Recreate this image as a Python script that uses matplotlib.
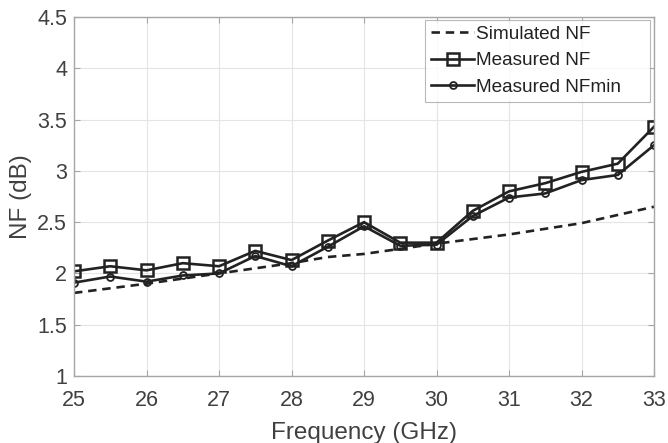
import matplotlib
matplotlib.use("Agg")
import matplotlib.pyplot as plt

freq = [25, 25.5, 26, 26.5, 27, 27.5, 28, 28.5, 29, 29.5, 30, 30.5, 31, 31.5, 32, 32.5, 33]
meas_nf = [2.02, 2.07, 2.03, 2.10, 2.07, 2.22, 2.13, 2.32, 2.50, 2.30, 2.30, 2.61, 2.80, 2.88, 2.99, 3.07, 3.43]
meas_nfmin = [1.91, 1.97, 1.92, 1.98, 2.00, 2.17, 2.07, 2.26, 2.46, 2.27, 2.28, 2.56, 2.74, 2.78, 2.91, 2.96, 3.25]
sim_freq = [25, 26, 27, 28, 28.5, 29, 30, 31, 32, 33]
sim_nf = [1.81, 1.90, 2.00, 2.10, 2.16, 2.19, 2.29, 2.38, 2.49, 2.65]

plt.rcParams['font.family'] = ['Liberation Sans', 'DejaVu Sans']
fig = plt.figure(figsize=(6.68, 4.43), dpi=100)
ax = fig.add_axes([74/668, 1-376/443, 580/668, 359/443])

ax.plot(sim_freq, sim_nf, '--', color='#222222', lw=1.9, dashes=(3.2, 2.2), label='Simulated NF')
ax.plot(freq, meas_nf, '-s', color='#222222', lw=1.9, ms=8, mfc='none', mew=1.8, label='Measured NF')
ax.plot(freq, meas_nfmin, '-o', color='#222222', lw=1.9, ms=5, mfc='none', mew=1.3, label='Measured NFmin')

ax.set_xlim(25, 33)
ax.set_ylim(1, 4.5)
ax.set_xticks(range(25, 34))
ax.set_yticks([1, 1.5, 2, 2.5, 3, 3.5, 4, 4.5])
ax.set_yticklabels(['1', '1.5', '2', '2.5', '3', '3.5', '4', '4.5'])
ax.grid(True, color='#e4e4e4', lw=0.8)
ax.set_axisbelow(True)
for s in ax.spines.values():
    s.set_color('#a6a6a6')
    s.set_linewidth(1.0)
ax.tick_params(direction='in', top=True, right=True, colors='#a6a6a6', labelcolor='#404040',
               labelsize=15.5, length=4)
ax.tick_params(axis='x', pad=10)
ax.tick_params(axis='y', pad=5)
ax.set_xlabel('Frequency (GHz)', fontsize=17.5, color='#404040', labelpad=8)
ax.set_ylabel('NF (dB)', fontsize=17.5, color='#404040', labelpad=4)

x0 = (425 - 74) / 580
w = (650 - 425) / 580
top = (376 - 20) / 359
h = 88 / 359
leg = ax.legend(loc='upper right', fontsize=13.7, frameon=True, fancybox=False,
                edgecolor='#a6a6a6', borderpad=0.3, labelspacing=0.48, handlelength=2.3,
                handletextpad=0.1, bbox_to_anchor=(x0, top - h, w, h), mode='expand',
                borderaxespad=0)
leg.get_frame().set_linewidth(0.8)
for t in leg.get_texts():
    t.set_color('#222222')

fig.savefig('out.png', dpi=100)
